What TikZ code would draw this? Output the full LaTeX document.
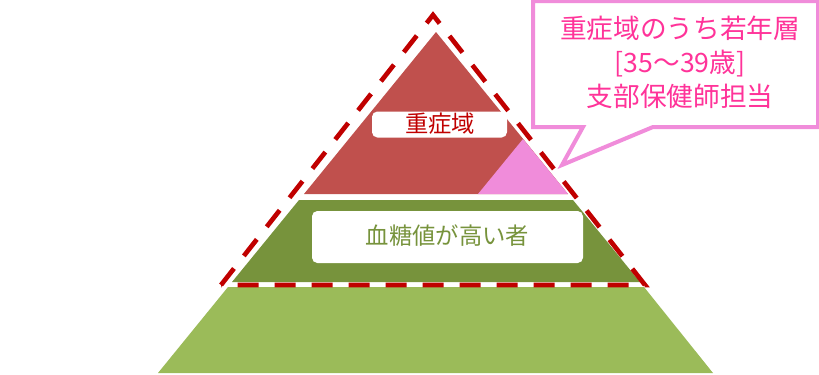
\documentclass[tikz,border=0pt]{standalone}
\usepackage{fontspec}
\setmainfont{Noto Sans CJK JP}
\definecolor{topred}{HTML}{C0504D}
\definecolor{midgreen}{HTML}{77933C}
\definecolor{lowgreen}{HTML}{9BBB59}
\definecolor{youngpink}{HTML}{F08CDA}
\definecolor{dashred}{HTML}{C00000}
\definecolor{calltext}{HTML}{FF3399}
\tikzset{
  labelbox/.style={fill=white, rounded corners=4pt, inner sep=0pt},
  dashline/.style={draw=dashred, line width=3.5pt, dash pattern=on 15.75pt off 12pt},
  callborder/.style={draw=youngpink, line width=3pt, fill=white, line join=miter},
}
\begin{document}
\begin{tikzpicture}[x=0.75pt,y=-0.75pt]
\useasboundingbox (0,0) rectangle (819,375);
% pyramid layers
\fill[lowgreen] (228,287) -- (644,287) -- (713,373) -- (158,373) -- cycle;
\fill[midgreen] (299,200) -- (573,200) -- (640,282) -- (232,282) -- cycle;
\fill[topred] (436,32) -- (568,194) -- (304,194) -- cycle;
\fill[youngpink] (523,139) -- (568,194) -- (478,194) -- cycle;
% dashed outline
\coordinate (dA) at (433,15);
\coordinate (dB) at (645,285);
\coordinate (dC) at (221,285);
\draw[dashline] (dC) -- (dA) -- (dB) -- cycle;
% label boxes
\node[labelbox, minimum width=135*0.75pt, minimum height=26*0.75pt] (severe) at (439.5,124.5) {};
\node[text=dashred, font=\fontsize{17.5pt}{20pt}\selectfont] (severeT) at (440,124) {重症域};
\node[labelbox, minimum width=271*0.75pt, minimum height=52*0.75pt] (high) at (447.5,237) {};
\node[text=midgreen, font=\fontsize{17.5pt}{20pt}\selectfont] (highT) at (447.5,236) {血糖値が高い者};
% callout
\coordinate (tip) at (562,165);
\draw[callborder] (533,1) -- (818,1) -- (818,127) -- (653,127) -- (tip) -- (583,127) -- (533,127) -- cycle;
\node[text=calltext, align=center, font=\fontsize{20pt}{25.5pt}\selectfont] (call) at (680,62) {重症域のうち若年層\\{}[35～39歳]\\支部保健師担当};
\end{tikzpicture}
\end{document}
